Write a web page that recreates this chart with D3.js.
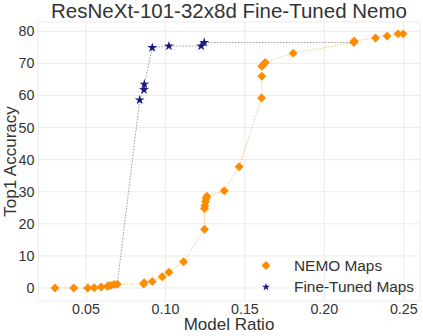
<!DOCTYPE html>
<html>
<head>
<meta charset="utf-8">
<script src="https://cdn.jsdelivr.net/npm/d3@7"></script>
<style>
  body { margin: 0; background: #fff; }
  text { font-family: "Liberation Sans", Arial, sans-serif; fill: #333; }
</style>
</head>
<body>
<div id="chart"></div>
<script>
// NEMO maps (orange diamonds)
var nemoRatio = [0.0305, 0.0423, 0.0511, 0.0552, 0.0596, 0.0634, 0.0643, 0.0655, 0.0676, 0.0697,
                 0.0863, 0.0866, 0.0917, 0.0980, 0.1022, 0.1114, 0.1246, 0.1246, 0.1248, 0.1252,
                 0.1256, 0.1261, 0.1370, 0.1464, 0.1605, 0.1607, 0.1607, 0.1615, 0.1628, 0.1804,
                 0.2186, 0.2187, 0.2322, 0.2395, 0.2464, 0.2496];
var nemoAcc   = [0.0, 0.0, 0.0, 0.1, 0.3, 0.5, 0.7, 0.8, 1.1, 1.2,
                 1.25, 1.65, 2.0, 3.5, 4.9, 8.2, 18.3, 24.8, 25.6, 26.9,
                 27.9, 28.6, 30.3, 37.8, 59.2, 66.0, 69.1, 69.6, 70.3, 73.2,
                 76.5, 77.0, 77.9, 78.5, 79.2, 79.2];

// Fine-tuned maps (navy stars)
var ftRatio = [0.0697, 0.0838, 0.0865, 0.0867, 0.0917, 0.1022, 0.1225, 0.1244, 0.2186];
var ftAcc   = [1.2, 58.6, 61.8, 63.5, 74.9, 75.4, 75.4, 76.5, 76.5];
var ftShow  = [false, true, true, true, true, true, true, true, false];

var xTicks = [0.05, 0.10, 0.15, 0.20, 0.25];
var yTicks = [0, 10, 20, 30, 40, 50, 60, 70, 80];

var W = 423, H = 336;
var mLeft = 38, mRight = 420, mTop = 22, mBottom = 301;

var svg = d3.select("#chart").append("svg")
  .attr("width", W).attr("height", H);

var x = d3.scaleLinear().domain([0.0198, 0.2602]).range([mLeft, mRight]);
var y = d3.scaleLinear().domain([-4.05, 82.9]).range([mBottom, mTop]);

// grid
svg.append("g").selectAll("line").data(xTicks).enter().append("line")
  .attr("x1", function(d) { return x(d); }).attr("x2", function(d) { return x(d); })
  .attr("y1", mTop).attr("y2", mBottom)
  .attr("stroke", "#ebebeb").attr("stroke-width", 1);
svg.append("g").selectAll("line").data(yTicks).enter().append("line")
  .attr("y1", function(d) { return y(d); }).attr("y2", function(d) { return y(d); })
  .attr("x1", mLeft).attr("x2", mRight)
  .attr("stroke", "#ebebeb").attr("stroke-width", 1);
svg.append("rect")
  .attr("x", mLeft).attr("y", mTop).attr("width", mRight - mLeft).attr("height", mBottom - mTop)
  .attr("fill", "none").attr("stroke", "#ebebeb");

// tick labels
svg.append("g").selectAll("text").data(xTicks).enter().append("text")
  .attr("x", function(d) { return x(d); }).attr("y", 314)
  .attr("text-anchor", "middle").attr("font-size", "14.3px")
  .text(function(d) { return d3.format(".2f")(d); });
svg.append("g").selectAll("text").data(yTicks).enter().append("text")
  .attr("x", 34.5).attr("y", function(d) { return y(d) + 5; })
  .attr("text-anchor", "end").attr("font-size", "14.3px")
  .text(function(d) { return d; });

// titles
svg.append("text").attr("x", 229).attr("y", 18)
  .attr("text-anchor", "middle").attr("font-size", "20.5px")
  .text("ResNeXt-101-32x8d Fine-Tuned Nemo");
svg.append("text").attr("x", 229).attr("y", 330)
  .attr("text-anchor", "middle").attr("font-size", "17px")
  .text("Model Ratio");
svg.append("text").attr("transform", "translate(16," + ((mTop + mBottom) / 2) + ") rotate(-90)")
  .attr("text-anchor", "middle").attr("font-size", "17px")
  .text("Top1 Accuracy");

var line = d3.line()
  .x(function(d) { return x(d[0]); })
  .y(function(d) { return y(d[1]); });

var nemo = d3.zip(nemoRatio, nemoAcc);
var ft = d3.zip(ftRatio, ftAcc);

svg.append("path").datum(ft).attr("d", line)
  .attr("fill", "none").attr("stroke", "#999").attr("stroke-width", 1)
  .attr("stroke-dasharray", "1.5,1.5");
svg.append("path").datum(nemo).attr("d", line)
  .attr("fill", "none").attr("stroke", "#ffc27a").attr("stroke-width", 1)
  .attr("stroke-dasharray", "1.5,1.5");

var diamond = d3.symbol().type(d3.symbolSquare).size(40);
var star = d3.symbol().type(d3.symbolStar).size(30);
var starSmall = d3.symbol().type(d3.symbolStar).size(20);

svg.append("g").selectAll("path").data(ft.filter(function(d, i) { return ftShow[i]; }))
  .enter().append("path")
  .attr("d", star)
  .attr("transform", function(d) { return "translate(" + x(d[0]) + "," + y(d[1]) + ")"; })
  .attr("fill", "#1a1a80");

svg.append("g").selectAll("path").data(nemo).enter().append("path")
  .attr("d", diamond)
  .attr("transform", function(d) { return "translate(" + x(d[0]) + "," + y(d[1]) + ") rotate(45)"; })
  .attr("fill", "#ff8c00");

// legend
var lg = svg.append("g");
lg.append("path").attr("d", diamond).attr("transform", "translate(266,265.5) rotate(45)").attr("fill", "#ff8c00");
lg.append("path").attr("d", starSmall).attr("transform", "translate(266,287)").attr("fill", "#1a1a80");
lg.append("text").attr("x", 294).attr("y", 270.5).attr("font-size", "15.4px").text("NEMO Maps");
lg.append("text").attr("x", 294).attr("y", 292).attr("font-size", "15.4px").text("Fine-Tuned Maps");
</script>
</body>
</html>
